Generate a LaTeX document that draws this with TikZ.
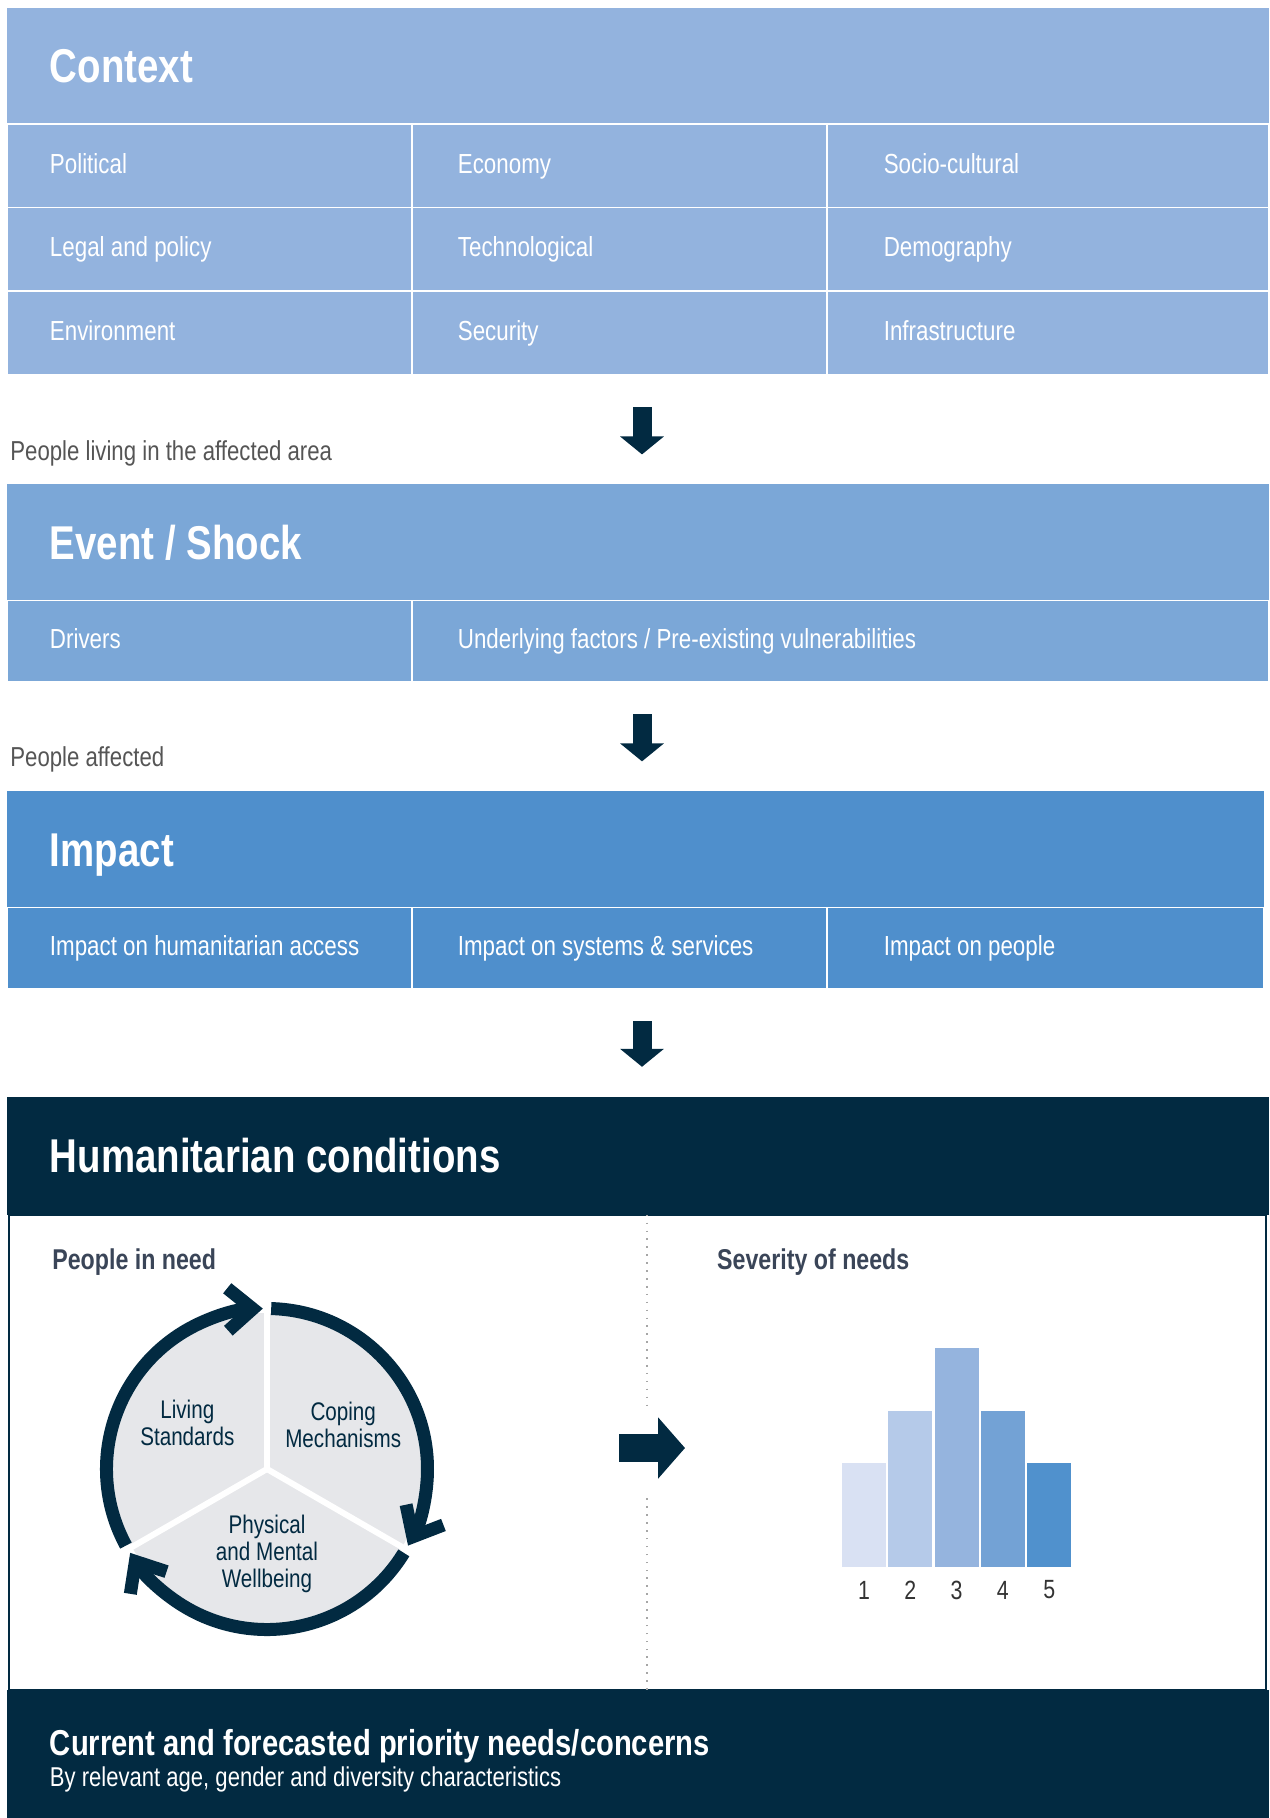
\documentclass[tikz,border=0pt]{standalone}
\usepackage{fontspec}
\setmainfont{Liberation Sans}[FakeStretch=0.81]
\usetikzlibrary{positioning,arrows.meta}

\definecolor{ctxblue}{HTML}{93B3DE}
\definecolor{evtblue}{HTML}{7BA7D7}
\definecolor{impblue}{HTML}{4F8FCC}
\definecolor{navy}{HTML}{022A41}
\definecolor{ringgrey}{HTML}{E6E7EA}
\definecolor{textgrey}{HTML}{555555}
\definecolor{slate}{HTML}{3A4558}
\definecolor{numgrey}{HTML}{333333}
\definecolor{bar1}{HTML}{D9E1F3}
\definecolor{bar2}{HTML}{B5CAE9}
\definecolor{bar3}{HTML}{95B4DE}
\definecolor{bar4}{HTML}{73A2D5}
\definecolor{bar5}{HTML}{5091CD}

\begin{document}
\begin{tikzpicture}[
    x=0.02cm, y=-0.02cm,
    blockhead/.style={anchor=north west, minimum height=2.32cm, inner xsep=0.86cm, inner ysep=0pt, outer sep=0pt, text width=23.52cm, align=flush left, text height=24pt, text depth=5pt, text=white, font=\fontsize{27}{32}\selectfont\bfseries},
    footbox/.style={anchor=north west, minimum height=2.84cm, inner xsep=0.86cm, inner ysep=0pt, outer sep=0pt, text width=23.52cm, align=flush left, fill=navy, text=white, font=\fontsize{15.5}{18}\selectfont},
    cellbox/.style={draw=white, line width=0.8pt, minimum height=1.67cm, inner ysep=0pt, outer sep=0pt, align=flush left, text height=12.5pt, text depth=4pt, text=white, font=\fontsize{15.7}{18}\selectfont},
    colA/.style={inner xsep=0.86cm, text width=6.38cm},
    colB/.style={inner xsep=0.92cm, text width=6.46cm},
    colC/.style={inner xsep=1.14cm, text width=6.56cm},
    gaplabel/.style={anchor=west, inner xsep=0.06cm, text=textgrey, font=\fontsize{15.6}{18}\selectfont},
    downarrow/.style={draw=navy, line width=0.38cm, -{Triangle[width=0.86cm, length=0.36cm]}, shorten <=0.66cm, shorten >=0.6cm},
    rightarrow/.style={draw=navy, line width=0.56cm, -{Triangle[width=1.2cm, length=0.54cm]}},
    subhead/.style={anchor=west, inner sep=0pt, text=slate, font=\fontsize{16.3}{19}\selectfont\bfseries},
    ringarc/.style={draw=navy, line width=0.26cm, -{Straight Barb[length=0.5cm, width=0.85cm, sharp]}},
    circlabel/.style={align=center, text=navy, font=\fontsize{14.5}{15.3}\selectfont},
    dotline/.style={draw=black!35, line width=0.9pt, dash pattern=on 0.9pt off 3.6pt},
    barbox/.style={anchor=south, minimum width=0.88cm, inner sep=0pt, outer sep=0pt},
    barnum/.style={text=numgrey, font=\fontsize{15}{18}\selectfont}
]
\useasboundingbox (0,0) rectangle (1269,1818);

% Context
\node[blockhead, fill=ctxblue] (ctx) at (7,8) {Context};
\node[cellbox, colA, fill=ctxblue, below right=0pt and 0pt of ctx.south west] (pol) {Political};
\node[cellbox, colB, fill=ctxblue, right=0pt of pol] (eco) {Economy};
\node[cellbox, colC, fill=ctxblue, right=0pt of eco] (soc) {Socio-cultural};
\node[cellbox, colA, fill=ctxblue, below=0pt of pol] (leg) {Legal and policy};
\node[cellbox, colB, fill=ctxblue, right=0pt of leg] (tec) {Technological};
\node[cellbox, colC, fill=ctxblue, right=0pt of tec] (dem) {Demography};
\node[cellbox, colA, fill=ctxblue, below=0pt of leg] (env) {Environment};
\node[cellbox, colB, fill=ctxblue, right=0pt of env] (sec) {Security};
\node[cellbox, colC, fill=ctxblue, right=0pt of sec] (inf) {Infrastructure};

\node[gaplabel] (lbl1) at ([yshift=-1.57cm]env.south west) {People living in the affected area};

% Event / Shock
\node[blockhead, fill=evtblue, below right=2.2cm and 0pt of env.south west] (evt) {Event / Shock};
\node[cellbox, colA, fill=evtblue, minimum height=1.62cm, below right=0pt and 0pt of evt.south west] (drv) {Drivers};
\node[cellbox, fill=evtblue, minimum height=1.62cm, inner xsep=0.92cm, text width=15.3cm, right=0pt of drv] (und) {Underlying factors / Pre-existing vulnerabilities};

\node[gaplabel] (lbl2) at ([yshift=-1.57cm]drv.south west) {People affected};

% Impact
\node[blockhead, fill=impblue, text width=23.42cm, below right=2.2cm and 0pt of drv.south west] (imp) {Impact};
\node[cellbox, colA, fill=impblue, minimum height=1.62cm, below right=0pt and 0pt of imp.south west] (acc) {Impact on humanitarian access};
\node[cellbox, colB, fill=impblue, minimum height=1.62cm, right=0pt of acc] (sys) {Impact on systems \& services};
\node[cellbox, colC, fill=impblue, minimum height=1.62cm, text width=6.46cm, right=0pt of sys] (ppl) {Impact on people};

% Humanitarian conditions
\node[blockhead, fill=navy, minimum height=2.36cm, below right=2.17cm and 0pt of acc.south west] (hum) {Humanitarian conditions};
\node[draw=navy, line width=0.04cm, fill=white, minimum width=25.14cm, minimum height=9.5cm, inner sep=0pt, outer sep=0pt, below right=0pt and 0.04cm of hum.south west] (pan) {};
\node[footbox, below right=9.5cm and 0pt of hum.south west] (fut) {{\fontsize{20.5}{24}\selectfont\bfseries Current and forecasted priority needs/concerns}\\[0pt]By relevant age, gender and diversity characteristics};

% Arrows between blocks
\coordinate (axis) at (642,0);
\draw[downarrow] (sec.south -| axis) -- (evt.north -| axis);
\draw[downarrow] (und.south -| axis) -- (imp.north -| axis);
\draw[downarrow] (sys.south -| axis) -- (hum.north -| axis);

% Panel
\node[subhead] (pin) at ([xshift=0.9cm, yshift=-0.95cm]hum.south west) {People in need};
\node[subhead] (sev) at ([xshift=14.2cm, yshift=-0.95cm]hum.south west) {Severity of needs};

\coordinate (sep) at (647,0);
\draw[dotline] (pan.north -| sep) -- ++(0,190) (pan.south -| sep) -- ++(0,-197);

% Cycle
\coordinate (cen) at (267,1469);
\fill[ringgrey] (cen) circle[radius=156];
\foreach \a in {31.5,151.5,271.5}
    \draw[ringarc] ([shift={(\a:160.5)}]cen) arc[start angle=\a, delta angle=117, radius=160.5];
\foreach \a in {30,150,270}
    \draw[white, line width=0.12cm] (cen) -- ++(\a:172);

\node[circlabel] (lvs) at ([shift={(-150:92)}]cen) {Living\\Standards};
\node[circlabel] (cop) at ([shift={(-30:88)}]cen) {Coping\\Mechanisms};
\node[circlabel] (phy) at ([shift={(90:85)}]cen) {Physical\\and Mental\\Wellbeing};

\coordinate (ra) at (619,1448);
\coordinate (rb) at (685,1448);
\draw[rightarrow] (ra) -- (rb);

% Severity bars
\foreach \h/\c [count=\i] in {2.08/bar1, 3.12/bar2, 4.38/bar3, 3.12/bar4, 2.08/bar5} {
    \node[barbox, fill=\c, minimum height=\h cm] (bar\i) at ({817.7+46.3*\i},1567) {};
    \node[barnum] (num\i) at ([yshift=-0.46cm]bar\i.south) {\i};
}

\end{tikzpicture}
\end{document}
